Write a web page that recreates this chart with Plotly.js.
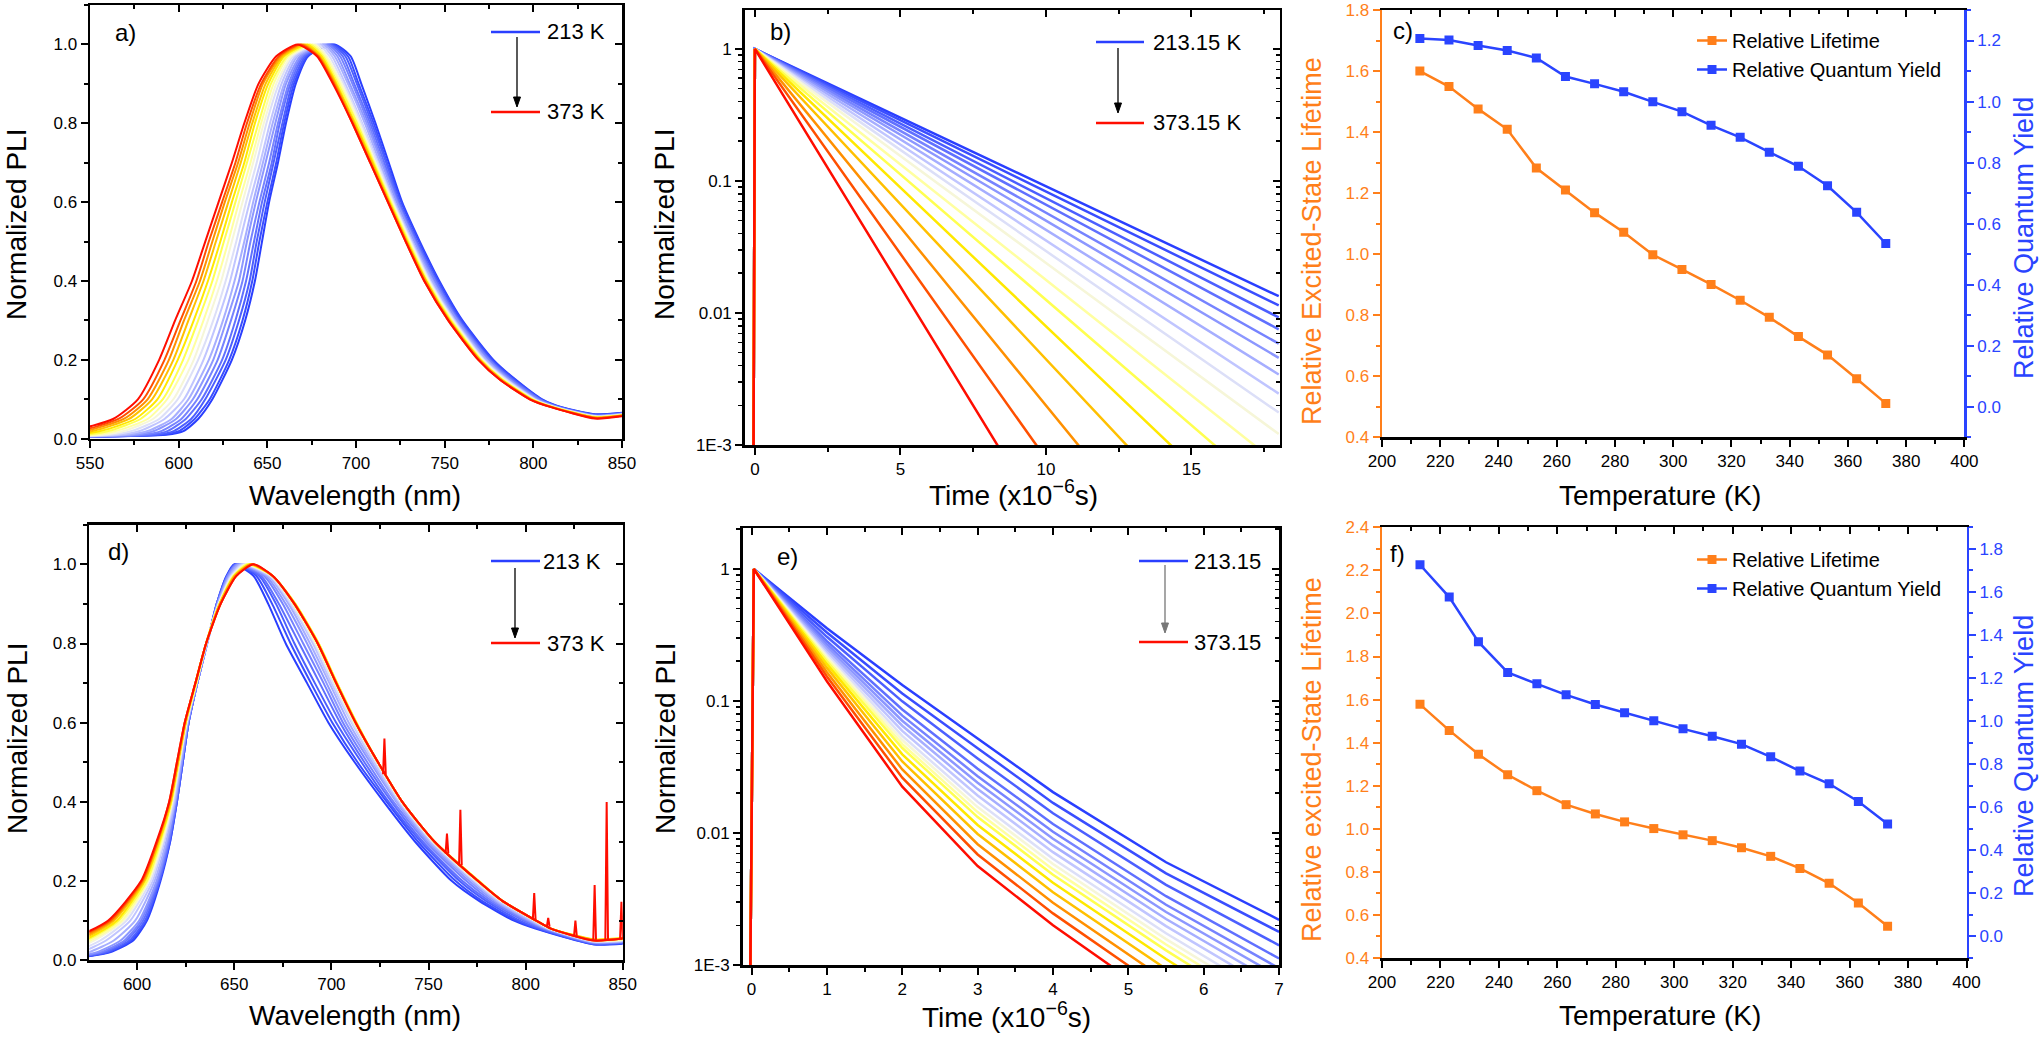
<!DOCTYPE html>
<html><head><meta charset="utf-8">
<script src="https://cdn.plot.ly/plotly-3.0.1.min.js"></script>
<style>html,body{margin:0;padding:0;background:#fff;}#chart{width:2042px;height:1038px;}</style>
</head><body><div id="chart"></div>
<script>
// ---------------- DATA ----------------
const TEMPS_K = [213,223,233,243,253,263,273,283,293,303,313,323,333,343,353,363,373];

// Panel a: wavelength (nm) at which each spectrum crosses given normalized levels
const A_RISE_LEVELS = [0.005,0.01,0.02,0.05,0.1,0.2,0.3,0.4,0.5,0.6,0.7,0.8,0.9,0.97,1.0];
const A_RISE_NM = [
 [545,593,603,611,619,630,637.5,643,647,651,656,660.5,666,673,688],
 [543,590,600.5,609,617.5,628.5,636,641.5,645.5,650,655,659.5,665,672.5,687],
 [541,587,597.5,607,615,626.5,634,640,644,648.5,653.5,658.5,664,671.5,686],
 [538.5,583.5,594,604,613,624.5,632,638,642.5,647,652.5,657,663,670.5,685],
 [536,579.5,590.5,601.5,610.5,622,629.5,636,640.5,645.5,651,656,662,669.5,684],
 [533.5,575.5,586.5,598.5,608,619.5,627,634,638.5,643.5,649,654.5,660.5,668.5,682.5],
 [530.5,571,583,596,605.5,617,625,631.5,637,642,647.5,653,659.5,667,681.5],
 [527.5,566.5,578.5,592,603,614,622,629,634.5,640,646,651.5,658,666,680],
 [524.5,561.5,574,589,599.5,611,619.5,626.5,632.5,638,644,649.5,656.5,664.5,678.5],
 [521,557,569.5,585.5,597,608.5,616.5,624,630,636,642,648,655,663.5,677],
 [518,552,565,582.5,593.5,605.5,614,621.5,628,634,640.5,646.5,653.5,662,675.5],
 [515,547.5,561,578.5,591,602.5,611,619,625.5,632,638.5,645,652,661,674],
 [511.5,542.5,556.5,575.5,588,599.5,608.5,616.5,623.5,630,637,643,650.5,659.5,672.5],
 [508.5,538,552,572,585,597,605.5,614,621,628,635,641.5,649,658.5,671],
 [506,534,548,569,582.5,594.5,603,612,619,626,633.5,640,647.5,657.5,669.5],
 [503,530,544.5,566,580,592,601,610,617,624.5,632,638.5,646.5,656.5,668.5],
 [500,525,540,563,577,589,598,607.5,615,622.5,630,637,645,655,667]
];
const A_FALL_LEVELS = [0.97,0.9,0.8,0.7,0.6,0.5,0.4,0.3,0.2,0.15,0.1,0.08];
const A_FALL_NM = [
 [697,703,711,718.5,726,736,747,760,777.5,790,805,816],
 [695.5,701.5,710,717.5,725.5,735.5,746.5,759.5,777,789.5,804.5,815.5],
 [694,700.5,709,717,724.5,734.5,745.5,758.5,776,788.5,804,815],
 [692.5,699,708,716,724,734,745,758,775.5,788,803.5,814.5],
 [691,698,707,715,723.5,733.5,744.5,757.5,775,787,803,814],
 [689.5,696.5,706,714.5,723,733,743.5,757,774,786.5,802,813.5],
 [688,695.5,705,713.5,722,732,743,756,773.5,785.5,801.5,813],
 [686.5,694,703.5,712.5,721.5,731.5,742,755.5,772.5,785,801,812.5],
 [685,693,703,712,721,731,741.5,755,772,784.5,800.5,812],
 [683.5,692,702,711,720.5,730.5,741,754.5,771.5,783.5,800,812],
 [682.5,691,701,710.5,720,730,740.5,754,771,783,799.5,811.5],
 [681.5,690,700.5,710,719.5,729.5,740,753.5,770.5,782.5,799.5,811],
 [680.5,689,699.5,709.5,719,729,739.5,753,770,782,799,811],
 [679.5,688.5,699,709,718.5,728.5,739.5,752.5,770,782,798.5,810.5],
 [679,688,698.5,708.5,718.5,728.5,739,752.5,769.5,781.5,798.5,810.5],
 [678.5,687.5,698,708,718,728,738.5,752,769,781,798,810],
 [678,687,698,708,718,728,738.5,752,769,781,798,810]
];
const A_TAIL_NM = [835, 850];
const A_V835 = [0.062,0.061,0.060,0.059,0.058,0.058,0.057,0.057,0.056,0.056,0.055,0.055,0.054,0.053,0.053,0.052,0.051];
const A_V850 = [0.066,0.065,0.064,0.064,0.063,0.063,0.062,0.062,0.061,0.061,0.060,0.060,0.059,0.059,0.058,0.058,0.057];

// Panel b: decay start / end (value at 18 us; below 1E-3 means the floor was reached earlier)
const B_TIMES = [-0.05, 0, 18];
const B_START = 0.0005;
const B_END = [0.0134,0.0114,0.00925,0.00752,0.00586,0.00457,0.00342,0.00245,0.00176,0.00121,0.00071,0.00038,0.000166,0.0000589,0.0000138,0.0000026,0.00000033];

// Panel c
const C_LIFETIME = [1.600,1.549,1.476,1.409,1.282,1.210,1.136,1.072,0.998,0.950,0.901,0.849,0.793,0.730,0.670,0.592,0.511];
const C_QY = [1.207,1.202,1.184,1.167,1.143,1.082,1.058,1.032,0.999,0.967,0.922,0.883,0.834,0.788,0.724,0.637,0.535];

// Panel d
const D_RISE_LEVELS = [0.01,0.02,0.05,0.1,0.2,0.3,0.4,0.5,0.6,0.7,0.8,0.9,0.97,1.0];
const D_RISE_NM = [
 [575,586,598,605,612,617,620.5,623.5,626.5,631,636,641,646,650],
 [574,585,597,604.5,611.5,617,620.5,623.5,626.5,631,636,641,646,650.5],
 [573,584,596,604,611.5,616.5,620.5,623.5,626.5,631,636,641,646.5,650.5],
 [571.5,582.5,594.5,603,611,616.5,620,623,626.5,631,636,641,646.5,651],
 [570,581,593.5,602,610.5,616,620,623,626,631,636,641.5,646.5,651.5],
 [568,579,591.5,601,610,615.5,619.5,623,626,631,636,641.5,647,652],
 [564.5,575,588,599,609,615,619.5,622.5,626,630.5,636,641.5,647.5,653],
 [560.5,571,584,596.5,608,614,619,622,625.5,630.5,636,642,648,654],
 [557,567.5,581,594.5,607,613.5,618.5,622,625.5,630.5,635.5,642,648.5,655],
 [554,564.5,578,593,606,613,618,621.5,625.5,630.5,635.5,642,649,656],
 [552,562,576,592,605.5,612.5,618,621.5,625,630.5,635.5,642.5,649.5,656.5],
 [550,560,574,590.5,605,612,617.5,621.5,625,630.5,635.5,642.5,649.5,657],
 [547.5,558,572.5,589.5,604,611.5,617.5,621,625,630,635.5,642.5,650,658],
 [545.5,556,570.5,588,603.5,611,617,621,625,630,635.5,642.5,650,658.5],
 [543.5,553.5,568.5,587,603,610.5,617,621,624.5,630,635.5,643,650.5,659],
 [541.5,552,566.5,586,602.5,610.5,616.5,620.5,624.5,630,635.5,643,651,659.5],
 [540,550,565,585,602,610,616.5,620.5,624.5,630,635.5,643,651,660]
];
const D_FALL_LEVELS = [0.97,0.9,0.8,0.7,0.6,0.5,0.4,0.3,0.2,0.15,0.1,0.08];
const D_FALL_NM = [
 [660,667.5,676.5,687.5,698.5,712,727,743,762,776,794,805],
 [661.5,669.5,679,689.5,700.5,713.5,728.5,744.5,764,777.5,795.5,806],
 [663,671.5,681,691.5,702.5,715.5,729.5,746,766,779.5,797,807],
 [664,673,683.5,694,704.5,717,731,747,767.5,781,799,808.5],
 [665.5,675,685.5,696,706,718.5,732,748.5,769.5,782.5,800.5,809.5],
 [666.5,676.5,687.5,697.5,707.5,720,733.5,749.5,771,784,801.5,810.5],
 [667.5,678,689,699,709,721,734,750.5,772.5,785,802.5,811],
 [668.5,679,690.5,700,710.5,722,735,751.5,773.5,786,803.5,811.5],
 [669,679.5,691.5,701,711,723,735.5,752,774,787,804.5,812],
 [669.5,680.5,692,702,712,723.5,736,752.5,775,787.5,805,812.5],
 [670,680.5,692.5,702,712,724,736.5,753,775,788,805,813],
 [670,681,693,702.5,712.5,724,736.5,753,775.5,788,805.5,813],
 [670,681.5,693.5,703,713,724,736.5,753,776,788,805.5,813],
 [670,681,693,702.5,712.5,724,736.5,753,775.5,788,805.5,813],
 [670,681,693,702.5,712.5,724,736.5,753,775.5,788,805.5,813],
 [670,681,693,702.5,712.5,724,736.5,753,775.5,788,805.5,813],
 [670,681,693,702.5,712.5,724,736.5,753,775.5,788,805.5,813]
];
const D_TAIL_NM = [835, 850];
const D_V835 = [0.040,0.041,0.042,0.043,0.044,0.045,0.046,0.047,0.048,0.049,0.050,0.052,0.053,0.052,0.051,0.050,0.050];
const D_V850 = [0.042,0.043,0.044,0.045,0.046,0.047,0.048,0.049,0.050,0.051,0.052,0.055,0.056,0.055,0.055,0.055,0.055];
// narrow spikes on the 373 K spectrum of panel d
const D_SPIKE_NM = [727.3,759.5,766.4,804.4,811.6,825.6,835.5,841.7,849.3];
const D_SPIKE_BASE = [0.47,0.27,0.24,0.103,0.085,0.062,0.052,0.050,0.055];
const D_SPIKE_PEAK = [0.56,0.32,0.38,0.17,0.107,0.10,0.19,0.40,0.148];

// Panel e: decay values at given times (us)
const E_TIMES = [-0.02,0.03,1,2,3,4,5.5,7];
const E_VALUES = [
 [0.0005,1,0.355,0.132,0.052,0.0204,0.006,0.0022],
 [0.0005,1,0.33,0.114,0.0439,0.0169,0.00494,0.00178],
 [0.0005,1,0.306,0.0993,0.0367,0.0141,0.00405,0.00141],
 [0.0005,1,0.284,0.0861,0.0307,0.0117,0.00332,0.00112],
 [0.0005,1,0.269,0.0774,0.0269,0.0102,0.00286,0.000944],
 [0.0005,1,0.257,0.0708,0.024,0.00904,0.00252,0.000817],
 [0.0005,1,0.245,0.0649,0.0215,0.00805,0.00223,0.000708],
 [0.0005,1,0.234,0.0593,0.0192,0.00716,0.00197,0.000612],
 [0.0005,1,0.224,0.0543,0.0172,0.00638,0.00174,0.000531],
 [0.0005,1,0.216,0.0506,0.0157,0.00582,0.00157,0.000473],
 [0.0005,1,0.208,0.0471,0.0144,0.0053,0.00143,0.000422],
 [0.0005,1,0.2,0.044,0.0132,0.00483,0.00129,0.000376],
 [0.0005,1,0.19,0.0394,0.0115,0.0042,0.00111,0.000316],
 [0.0005,1,0.178,0.0348,0.00982,0.00356,0.000933,0.000258],
 [0.0005,1,0.165,0.0303,0.00822,0.00296,0.000766,0.000205],
 [0.0005,1,0.153,0.0262,0.00687,0.00246,0.000627,0.000163],
 [0.0005,1,0.141,0.0224,0.00562,0.002,0.0005,0.000126]
];

// Panel f
const F_LIFETIME = [1.578,1.457,1.346,1.251,1.177,1.112,1.069,1.032,1.001,0.972,0.945,0.912,0.872,0.816,0.747,0.655,0.547];
const F_QY = [1.726,1.576,1.368,1.226,1.173,1.122,1.077,1.039,1.002,0.964,0.930,0.893,0.834,0.768,0.709,0.627,0.522];

// ---------------- STYLE ----------------
const COLORS = ['#2a3fff','#3a4eff','#4c5fff','#6070ff','#7683ff','#8c97ff','#a6aeff','#c0c5ff','#dcdff8',
                '#f6f6d8','#ffffa0','#ffff50','#ffe800','#ffc000','#ff9000','#ff5000','#ff0d00'];
const ORANGE = '#ff7f1a', BLUE = '#2a44ff';
const FONT = 'Liberation Sans, Arial, Helvetica, sans-serif';
const W = 2042, H = 1038;
const PX = v => v / W, PY = v => 1 - v / H;

// ---------------- TRACES ----------------
const traces = [];
for (let i = 0; i < TEMPS_K.length; i++) {
  traces.push({type:'scatter', mode:'lines', xaxis:'x', yaxis:'y', showlegend:false, hoverinfo:'skip',
    x: A_RISE_NM[i].concat(A_FALL_NM[i], A_TAIL_NM),
    y: A_RISE_LEVELS.concat(A_FALL_LEVELS, [A_V835[i], A_V850[i]]),
    line:{color:COLORS[i], width:2, shape:'spline', smoothing:0.6}, name: TEMPS_K[i]+' K'});
}
for (let i = 0; i < TEMPS_K.length; i++) {
  traces.push({type:'scatter', mode:'lines', xaxis:'x2', yaxis:'y2', showlegend:false, hoverinfo:'skip',
    x: B_TIMES, y: [B_START, 1, B_END[i]],
    line:{color:COLORS[i], width:2.5}, name: TEMPS_K[i]+'.15 K'});
}
traces.push({type:'scatter', mode:'lines+markers', xaxis:'x3', yaxis:'y3', legend:'legend', hoverinfo:'skip',
  name:'Relative Lifetime', x:TEMPS_K, y:C_LIFETIME,
  line:{color:ORANGE, width:2.5}, marker:{symbol:'square', size:9, color:ORANGE}});
traces.push({type:'scatter', mode:'lines+markers', xaxis:'x3', yaxis:'y11', legend:'legend', hoverinfo:'skip',
  name:'Relative Quantum Yield', x:TEMPS_K, y:C_QY,
  line:{color:BLUE, width:2.5}, marker:{symbol:'square', size:9, color:BLUE}});
for (let i = 0; i < TEMPS_K.length; i++) {
  traces.push({type:'scatter', mode:'lines', xaxis:'x4', yaxis:'y4', showlegend:false, hoverinfo:'skip',
    x: D_RISE_NM[i].concat(D_FALL_NM[i], D_TAIL_NM),
    y: D_RISE_LEVELS.concat(D_FALL_LEVELS, [D_V835[i], D_V850[i]]),
    line:{color:COLORS[i], width:2, shape:'spline', smoothing:0.6}, name: TEMPS_K[i]+' K'});
}
(function(){
  const sx = [], sy = [];
  for (let k = 0; k < D_SPIKE_NM.length; k++) {
    sx.push(D_SPIKE_NM[k]-0.7, D_SPIKE_NM[k], D_SPIKE_NM[k]+0.7, null);
    sy.push(D_SPIKE_BASE[k], D_SPIKE_PEAK[k], D_SPIKE_BASE[k], null);
  }
  traces.push({type:'scatter', mode:'lines', xaxis:'x4', yaxis:'y4', showlegend:false, hoverinfo:'skip',
    x:sx, y:sy, line:{color:COLORS[16], width:2}});
})();
for (let i = 0; i < TEMPS_K.length; i++) {
  traces.push({type:'scatter', mode:'lines', xaxis:'x5', yaxis:'y5', showlegend:false, hoverinfo:'skip',
    x: E_TIMES, y: E_VALUES[i],
    line:{color:COLORS[i], width:2.5}, name: TEMPS_K[i]+'.15'});
}
traces.push({type:'scatter', mode:'lines+markers', xaxis:'x6', yaxis:'y6', legend:'legend2', hoverinfo:'skip',
  name:'Relative Lifetime', x:TEMPS_K, y:F_LIFETIME,
  line:{color:ORANGE, width:2.5}, marker:{symbol:'square', size:9, color:ORANGE}});
traces.push({type:'scatter', mode:'lines+markers', xaxis:'x6', yaxis:'y12', legend:'legend2', hoverinfo:'skip',
  name:'Relative Quantum Yield', x:TEMPS_K, y:F_QY,
  line:{color:BLUE, width:2.5}, marker:{symbol:'square', size:9, color:BLUE}});
// empty traces so that mirror (frame) axes get drawn
[['x7','y7'],['x8','y8'],['x9','y9'],['x10','y10'],['x11','y3'],['x12','y6']].forEach(p => {
  traces.push({type:'scatter', mode:'lines', x:[], y:[], xaxis:p[0], yaxis:p[1], showlegend:false, hoverinfo:'skip'});
});

// ---------------- AXES ----------------
function ax(extra, color) {
  const c = color || '#000';
  const o = {showline:true, linecolor:c, linewidth:2.5, ticks:'outside', ticklen:7, tickwidth:2, tickcolor:c,
    showgrid:false, zeroline:false, fixedrange:true, tickfont:{family:FONT, size:17, color:c}};
  return Object.assign(o, extra);
}
function minor(dt, inside, color) {
  return {dtick:dt, ticks: inside ? 'inside' : 'outside', ticklen:4, tickwidth:2, tickcolor: color || '#000', showgrid:false};
}
function mirror(extra) {
  return ax(Object.assign({ticks:'inside', showticklabels:false}, extra));
}
const LOG_MAJOR = [0.001, 0.01, 0.1, 1];
const LOG_TEXT = ['1E-3', '0.01', '0.1', '1'];
const LOG_MINOR = [];
[0.001, 0.01, 0.1, 1].forEach(d => { for (let k = 2; k <= 9; k++) LOG_MINOR.push(+(d * k).toPrecision(3)); });
function logMinor(inside) { return {tickmode:'array', tickvals:LOG_MINOR, ticks: inside ? 'inside':'outside', ticklen:4, tickwidth:1.5, tickcolor:'#000', showgrid:false}; }

const DOM = {
  a:{x:[PX(90), PX(622)], y:[PY(438.7), PY(5)]},
  b:{x:[PX(744.7), PX(1279.6)], y:[PY(445), PY(10)]},
  c:{x:[PX(1382), PX(1964.4)], y:[PY(437.3), PY(10)]},
  d:{x:[PX(89.3), PX(622.8)], y:[PY(960.3), PY(524.7)]},
  e:{x:[PX(742.5), PX(1279.1)], y:[PY(965), PY(528)]},
  f:{x:[PX(1382), PX(1966.5)], y:[PY(958), PY(527.3)]}
};
const RA = {ax:[550,850], ay:[0,1.1], bx:[-0.35,18.03], by:[-3,0.295], cx:[200,400], cy:[0.4,1.8], cy2:[-0.1,1.3],
            dx:[575.4,850], dy:[0,1.1], ex:[-0.12,7], ey:[-3,0.31], fx:[200,400], fy:[0.4,2.4], fy2:[-0.1,1.9]};

const layout = {
  width:W, height:H, autosize:false, margin:{l:0,r:0,t:0,b:0}, paper_bgcolor:'#fff', plot_bgcolor:'rgba(0,0,0,0)',
  font:{family:FONT, color:'#000'}, hovermode:false,
  // a
  xaxis: ax({domain:DOM.a.x, anchor:'y', range:RA.ax, tick0:0, dtick:50, minor:minor(25)}),
  yaxis: ax({domain:DOM.a.y, anchor:'x', range:RA.ay, tick0:0, dtick:0.2, tickformat:'.1f', minor:minor(0.1)}),
  xaxis7: mirror({overlaying:'x', side:'top', anchor:'y', range:RA.ax, tick0:0, dtick:50, minor:minor(25,true)}),
  yaxis7: mirror({overlaying:'y', side:'right', anchor:'x', range:RA.ay, tick0:0, dtick:0.2, minor:minor(0.1,true)}),
  // b
  xaxis2: ax({domain:DOM.b.x, anchor:'y2', range:RA.bx, tick0:0, dtick:5, minor:minor(2.5)}),
  yaxis2: ax({domain:DOM.b.y, anchor:'x2', type:'log', range:RA.by, tickmode:'array', tickvals:LOG_MAJOR, ticktext:LOG_TEXT, minor:logMinor(false)}),
  xaxis8: mirror({overlaying:'x2', side:'top', anchor:'y2', range:RA.bx, tick0:0, dtick:5, minor:minor(2.5,true)}),
  yaxis8: mirror({overlaying:'y2', side:'right', anchor:'x2', type:'log', range:RA.by, tickmode:'array', tickvals:LOG_MAJOR, minor:logMinor(true)}),
  // c
  xaxis3: ax({domain:DOM.c.x, anchor:'y3', range:RA.cx, tick0:0, dtick:20, minor:minor(10)}),
  yaxis3: ax({domain:DOM.c.y, anchor:'x3', range:RA.cy, tick0:0, dtick:0.2, tickformat:'.1f', minor:minor(0.1,false,ORANGE)}, ORANGE),
  yaxis11: ax({overlaying:'y3', side:'right', anchor:'x3', range:RA.cy2, tick0:0, dtick:0.2, tickformat:'.1f', minor:minor(0.1,false,BLUE)}, BLUE),
  xaxis11: mirror({overlaying:'x3', side:'top', anchor:'y3', range:RA.cx, tick0:0, dtick:20, minor:minor(10,true)}),
  // d
  xaxis4: ax({domain:DOM.d.x, anchor:'y4', range:RA.dx, tick0:0, dtick:50, minor:minor(25)}),
  yaxis4: ax({domain:DOM.d.y, anchor:'x4', range:RA.dy, tick0:0, dtick:0.2, tickformat:'.1f', minor:minor(0.1)}),
  xaxis9: mirror({overlaying:'x4', side:'top', anchor:'y4', range:RA.dx, tick0:0, dtick:50, minor:minor(25,true)}),
  yaxis9: mirror({overlaying:'y4', side:'right', anchor:'x4', range:RA.dy, tick0:0, dtick:0.2, minor:minor(0.1,true)}),
  // e
  xaxis5: ax({domain:DOM.e.x, anchor:'y5', range:RA.ex, tick0:0, dtick:1, minor:minor(0.5)}),
  yaxis5: ax({domain:DOM.e.y, anchor:'x5', type:'log', range:RA.ey, tickmode:'array', tickvals:LOG_MAJOR, ticktext:LOG_TEXT, minor:logMinor(false)}),
  xaxis10: mirror({overlaying:'x5', side:'top', anchor:'y5', range:RA.ex, tick0:0, dtick:1, minor:minor(0.5,true)}),
  yaxis10: mirror({overlaying:'y5', side:'right', anchor:'x5', type:'log', range:RA.ey, tickmode:'array', tickvals:LOG_MAJOR, minor:logMinor(true)}),
  // f
  xaxis6: ax({domain:DOM.f.x, anchor:'y6', range:RA.fx, tick0:0, dtick:20, minor:minor(10)}),
  yaxis6: ax({domain:DOM.f.y, anchor:'x6', range:RA.fy, tick0:0, dtick:0.2, tickformat:'.1f', minor:minor(0.1,false,ORANGE)}, ORANGE),
  yaxis12: ax({overlaying:'y6', side:'right', anchor:'x6', range:RA.fy2, tick0:0, dtick:0.2, tickformat:'.1f', minor:minor(0.1,false,BLUE)}, BLUE),
  xaxis12: mirror({overlaying:'x6', side:'top', anchor:'y6', range:RA.fx, tick0:0, dtick:20, minor:minor(10,true)}),
  legend: {x:PX(1692), y:PY(21), xanchor:'left', yanchor:'top', bgcolor:'rgba(0,0,0,0)', borderwidth:0,
           font:{family:FONT, size:20, color:'#000'}, tracegroupgap:0},
  legend2: {x:PX(1692), y:PY(540), xanchor:'left', yanchor:'top', bgcolor:'rgba(0,0,0,0)', borderwidth:0,
           font:{family:FONT, size:20, color:'#000'}, tracegroupgap:0},
  shapes: [], annotations: []
};

// ---------------- TEXT & LEGEND DECORATIONS ----------------
function txt(t, x, y, size, opts) {
  layout.annotations.push(Object.assign({text:t, x:PX(x), y:PY(y), xref:'paper', yref:'paper', showarrow:false,
    xanchor:'center', yanchor:'middle', font:{family:FONT, size:size, color:'#000'}}, opts || {}));
}
function seg(x0, x1, y, color) {
  layout.shapes.push({type:'line', xref:'paper', yref:'paper', x0:PX(x0), x1:PX(x1), y0:PY(y), y1:PY(y), line:{color:color, width:2.5}});
}
function arrow(x, yTail, yTip, color) {
  layout.shapes.push({type:'line', xref:'paper', yref:'paper', x0:PX(x), x1:PX(x), y0:PY(yTail), y1:PY(yTip - 6), line:{color:color, width:1.3}});
  layout.shapes.push({type:'path', xref:'paper', yref:'paper', line:{color:color, width:1}, fillcolor:color,
    path:'M' + PX(x - 3.5) + ',' + PY(yTip - 10) + ' L' + PX(x + 3.5) + ',' + PY(yTip - 10) + ' L' + PX(x) + ',' + PY(yTip) + ' Z'});
}
// panel labels
txt('a)', 125, 33, 24); txt('b)', 780, 32, 24); txt('c)', 1403, 30, 24);
txt('d)', 118, 551, 24); txt('e)', 787, 556, 24); txt('f)', 1397, 553, 24);
// y titles
txt('Normalized PLI', 17, 225, 28, {textangle:-90});
txt('Normalized PLI', 665, 225, 28, {textangle:-90});
txt('Normalized PLI', 17, 739, 28, {textangle:-90});
txt('Normalized PLI', 665, 739, 28, {textangle:-90});
txt('Relative Excited-State Lifetime', 1312, 241, 27, {textangle:-90, font:{family:FONT, size:27, color:ORANGE}});
txt('Relative Quantum Yield', 2024, 238, 27, {textangle:-90, font:{family:FONT, size:27, color:BLUE}});
txt('Relative excited-State Lifetime', 1312, 760, 27, {textangle:-90, font:{family:FONT, size:27, color:ORANGE}});
txt('Relative Quantum Yield', 2024, 756, 27, {textangle:-90, font:{family:FONT, size:27, color:BLUE}});
// x titles
txt('Wavelength (nm)', 355, 495, 28);
txt('Wavelength (nm)', 355, 1015, 28);
txt('Time (x10<sup>\u22126</sup>s)', 1013, 493, 28);
txt('Time (x10<sup>\u22126</sup>s)', 1006, 1015, 28);
txt('Temperature (K)', 1660, 495, 28);
txt('Temperature (K)', 1660, 1015, 28);
// temperature "legends" with arrows
const LB = COLORS[0], LR = COLORS[16];
seg(491, 540, 32, LB); seg(491, 540, 112, LR);
txt('213 K', 545, 32, 22, {xanchor:'left'}); txt('373 K', 545, 112, 22, {xanchor:'left'});
arrow(517, 37, 107, '#000');
seg(1096, 1144, 42, LB); seg(1096, 1144, 123, LR);
txt('213.15 K', 1151, 42, 22, {xanchor:'left'}); txt('373.15 K', 1151, 123, 22, {xanchor:'left'});
arrow(1118, 48, 113, '#000');
seg(491, 540, 561, LB); seg(491, 540, 643, LR);
txt('213 K', 541, 561, 22, {xanchor:'left'}); txt('373 K', 545, 643, 22, {xanchor:'left'});
arrow(515, 568, 638, '#000');
seg(1139, 1188, 561, LB); seg(1139, 1188, 642, LR);
txt('213.15', 1192, 561, 22, {xanchor:'left'}); txt('373.15', 1192, 642, 22, {xanchor:'left'});
arrow(1165, 565, 633, '#777');

Plotly.newPlot('chart', traces, layout, {staticPlot:true, displayModeBar:false});
</script></body></html>
